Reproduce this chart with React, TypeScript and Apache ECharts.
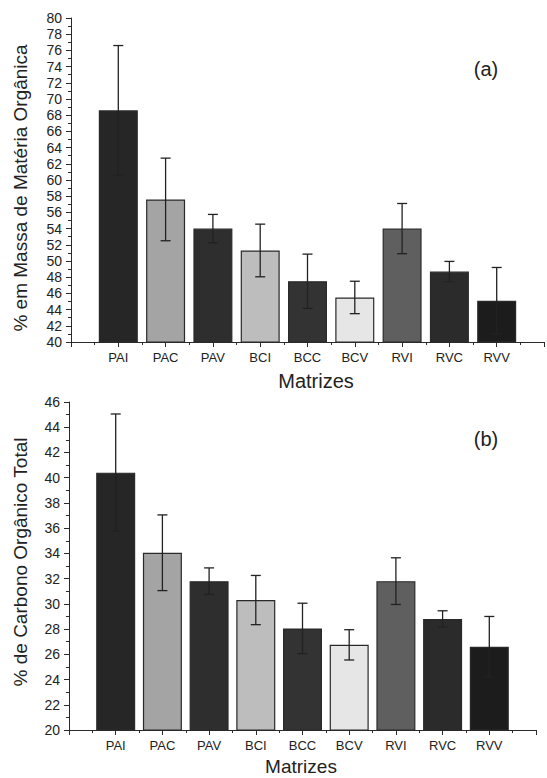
import React, { useEffect, useRef } from "react";
import * as echarts from "echarts";

const categories = ["PAI", "PAC", "PAV", "BCI", "BCC", "BCV", "RVI", "RVC", "RVV"];
const barColors = ["#262626", "#a4a4a4", "#2e2e2e", "#bdbdbd", "#333333", "#e6e6e6", "#5f5f5f", "#2b2b2b", "#1c1c1c"];

const materiaOrganica = [68.6, 57.6, 54.0, 51.3, 47.5, 45.5, 54.0, 48.7, 45.1];
const materiaOrganicaErr = [8.0, 5.1, 1.75, 3.25, 3.35, 2.0, 3.1, 1.25, 4.1];

const carbonoOrganico = [40.4, 34.05, 31.8, 30.3, 28.05, 26.75, 31.8, 28.8, 26.6];
const carbonoOrganicoErr = [4.65, 3.0, 1.05, 1.95, 2.0, 1.2, 1.85, 0.65, 2.4];

const yTitleA = "% em Massa de Matéria Orgânica";
const yTitleB = "% de Carbono Orgânico Total";
const xTitle = "Matrizes";

const FONT = "'Liberation Sans', Arial, Helvetica, sans-serif";
const AXIS_COLOR = "#2a2a2a";

function barData(values: number[]) {
  return values.map((v, i) => ({
    value: [i + 1, v],
    itemStyle: { color: barColors[i] },
  }));
}

function errData(values: number[], errs: number[]) {
  return values.map((v, i) => [i + 1, v - errs[i], v + errs[i]]);
}

const renderError = (params: any, api: any) => {
  const x = api.value(0);
  const lo = api.coord([x, api.value(1)]);
  const hi = api.coord([x, api.value(2)]);
  const half = 5;
  const style = { stroke: "#222", lineWidth: 1.3 };
  return {
    type: "group",
    children: [
      { type: "line", shape: { x1: lo[0], y1: lo[1], x2: hi[0], y2: hi[1] }, style },
      { type: "line", shape: { x1: hi[0] - half, y1: hi[1], x2: hi[0] + half, y2: hi[1] }, style },
      { type: "line", shape: { x1: lo[0] - half, y1: lo[1], x2: lo[0] + half, y2: lo[1] }, style },
    ],
  };
};

function xAxisDef(gridIndex: number) {
  return {
    type: "value",
    gridIndex,
    min: 0,
    max: 10,
    interval: 1,
    axisLine: { show: true, onZero: false, lineStyle: { color: AXIS_COLOR, width: 1 } },
    axisTick: { show: true, inside: false, length: 5, lineStyle: { color: AXIS_COLOR } },
    minorTick: { show: true, splitNumber: 2, length: 3, lineStyle: { color: AXIS_COLOR } },
    splitLine: { show: false },
    minorSplitLine: { show: false },
    axisLabel: {
      show: true,
      margin: 9,
      fontFamily: FONT,
      fontSize: 13,
      color: "#222",
      formatter: (v: number) => (v >= 1 && v <= categories.length ? categories[v - 1] : ""),
    },
  };
}

function yAxisDef(gridIndex: number, min: number, max: number) {
  return {
    type: "value",
    gridIndex,
    min,
    max,
    interval: 2,
    axisLine: { show: true, onZero: false, lineStyle: { color: AXIS_COLOR, width: 1 } },
    axisTick: { show: true, inside: false, length: 5, lineStyle: { color: AXIS_COLOR } },
    minorTick: { show: true, splitNumber: 2, length: 3, lineStyle: { color: AXIS_COLOR } },
    splitLine: { show: false },
    minorSplitLine: { show: false },
    axisLabel: { show: true, margin: 9, fontFamily: FONT, fontSize: 14, color: "#222" },
  };
}

export default function App() {
  const ref = useRef<HTMLDivElement>(null);
  useEffect(() => {
    if (!ref.current) return;
    const chart = echarts.init(ref.current, undefined, { renderer: "svg" });
    const textStyle = (size: number) => ({ fill: "#222", fontFamily: FONT, fontSize: size });
    chart.setOption({
      animation: false,
      backgroundColor: "#ffffff",
      grid: [
        { left: 71, top: 18, width: 476, height: 324 },
        { left: 69, top: 402, width: 467, height: 328 },
      ],
      xAxis: [xAxisDef(0), xAxisDef(1)],
      yAxis: [yAxisDef(0, 40, 80), yAxisDef(1, 20, 46)],
      series: [
        {
          type: "bar",
          xAxisIndex: 0,
          yAxisIndex: 0,
          barWidth: 39,
          clip: true,
          data: barData(materiaOrganica),
          itemStyle: { borderColor: "#2a2a2a", borderWidth: 1.2 },
        },
        {
          type: "custom",
          xAxisIndex: 0,
          yAxisIndex: 0,
          renderItem: renderError,
          encode: { x: 0, y: [1, 2] },
          data: errData(materiaOrganica, materiaOrganicaErr),
          z: 10,
        },
        {
          type: "bar",
          xAxisIndex: 1,
          yAxisIndex: 1,
          barWidth: 39,
          clip: true,
          data: barData(carbonoOrganico),
          itemStyle: { borderColor: "#2a2a2a", borderWidth: 1.2 },
        },
        {
          type: "custom",
          xAxisIndex: 1,
          yAxisIndex: 1,
          renderItem: renderError,
          encode: { x: 0, y: [1, 2] },
          data: errData(carbonoOrganico, carbonoOrganicoErr),
          z: 10,
        },
      ],
      graphic: [
        {
          type: "text",
          x: 20,
          y: 188,
          rotation: Math.PI / 2,
          style: { ...textStyle(19), text: yTitleA, align: "center", verticalAlign: "middle" },
        },
        {
          type: "text",
          x: 20,
          y: 562,
          rotation: Math.PI / 2,
          style: { ...textStyle(19), text: yTitleB, align: "center", verticalAlign: "middle" },
        },
        {
          type: "text",
          x: 316,
          y: 381,
          style: { ...textStyle(20), text: xTitle, align: "center", verticalAlign: "middle" },
        },
        {
          type: "text",
          x: 301,
          y: 766,
          style: { ...textStyle(19), text: xTitle, align: "center", verticalAlign: "middle" },
        },
        {
          type: "text",
          x: 486,
          y: 69,
          style: { ...textStyle(20), text: "(a)", align: "center", verticalAlign: "middle" },
        },
        {
          type: "text",
          x: 486,
          y: 439,
          style: { ...textStyle(20), text: "(b)", align: "center", verticalAlign: "middle" },
        },
      ],
    });
    return () => chart.dispose();
  }, []);
  return (
    <div
      ref={ref}
      style={{ position: "fixed", left: 0, top: 0, width: 547, height: 778, background: "#fff" }}
    />
  );
}
